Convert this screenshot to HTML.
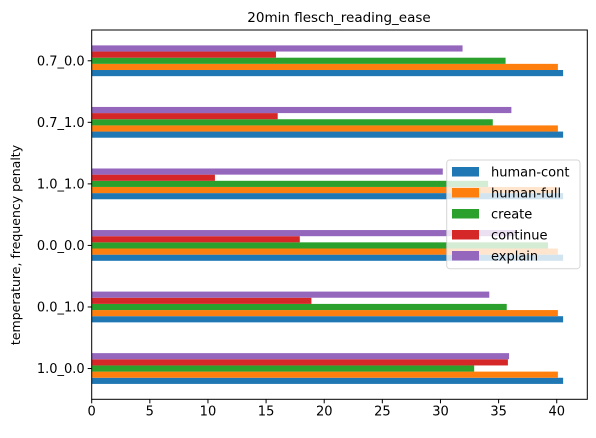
<!DOCTYPE html>
<html><head><meta charset="utf-8"><style>
body{margin:0;background:#fff;}
svg{font-family:"DejaVu Sans","Liberation Sans",sans-serif;}
</style></head><body>
<svg id="chart" width="596" height="433" xmlns="http://www.w3.org/2000/svg">
<rect width="596" height="433" fill="#fff"/>
<text x="339" y="22" text-anchor="middle" font-size="13.5" fill="#000">20min flesch_reading_ease</text>
<text transform="translate(20,245) rotate(-90)" text-anchor="middle" font-size="12.5" fill="#000">temperature, frequency penalty</text>
<g id="bars"></g>
<g id="axes"></g>
<g id="legend"></g>
</svg>
<script>
const categories = ["1.0_0.0","0.0_1.0","0.0_0.0","1.0_1.0","0.7_1.0","0.7_0.0"];
const seriesNames = ["human-cont","human-full","create","continue","explain"];
const humanCont = [40.55,40.55,40.55,40.55,40.55,40.55];
const humanFull = [40.1,40.1,40.1,40.1,40.1,40.1];
const create = [32.9,35.7,39.25,34.1,34.5,35.6];
const cont = [35.8,18.9,17.9,10.6,16.0,15.85];
const explain = [35.9,34.2,36.5,30.2,36.1,31.9];
const xTicks = [0,5,10,15,20,25,30,35,40];
const colors = ["#1f77b4","#ff7f0e","#2ca02c","#d62728","#9467bd"];
const series = [humanCont,humanFull,create,cont,explain];

const NS="http://www.w3.org/2000/svg";
const L=91.7,R=587.3,T=30,B=399.3,XMAX=42.63;
const x=v=>L+v/XMAX*(R-L);
const step=(B-T)/categories.length;
const yc=i=>B-step*(i+0.5);
const bw=step*0.5/series.length;
function mk(tag,attrs,parent){const e=document.createElementNS(NS,tag);for(const k in attrs)e.setAttribute(k,attrs[k]);parent.appendChild(e);return e;}
const gb=document.getElementById('bars');
categories.forEach((c,i)=>{
  series.forEach((s,j)=>{
    const top=yc(i)+step*0.25-bw*(j+1);
    const r=mk('rect',{x:x(0),y:top,width:x(s[i])-x(0),height:bw,fill:colors[j]},gb);
    
    
  });
});
const ga=document.getElementById('axes');
const frame=mk('rect',{x:L,y:T,width:R-L,height:B-T,fill:'none',stroke:'#000','stroke-width':1},ga);


xTicks.forEach(t=>{
  mk('line',{x1:x(t),x2:x(t),y1:B,y2:B+4,stroke:'#000'},ga);
  const tx=mk('text',{x:x(t),y:415.5,'text-anchor':'middle','font-size':13},ga);
  tx.textContent=t;
  
  
});
categories.forEach((c,i)=>{
  mk('line',{x1:L-4,x2:L,y1:yc(i),y2:yc(i),stroke:'#000'},ga);
  const tx=mk('text',{x:L-7,y:yc(i)+4.6,'text-anchor':'end','font-size':13},ga);
  tx.textContent=c;
  
  
});
const gl=document.getElementById('legend');


mk('rect',{x:446.7,y:160,width:133.3,height:108.7,rx:3,fill:'#fff','fill-opacity':0.8,stroke:'#ccc','stroke-opacity':0.8},gl);
seriesNames.forEach((n,j)=>{
  const yy=172+j*21;
  mk('rect',{x:452,y:yy-5,width:27,height:9.5,fill:colors[j]},gl);
  const tx=mk('text',{x:491,y:yy+4.7,'font-size':13},gl);
  tx.textContent=n;
  
  
});
</script>
</body></html>
